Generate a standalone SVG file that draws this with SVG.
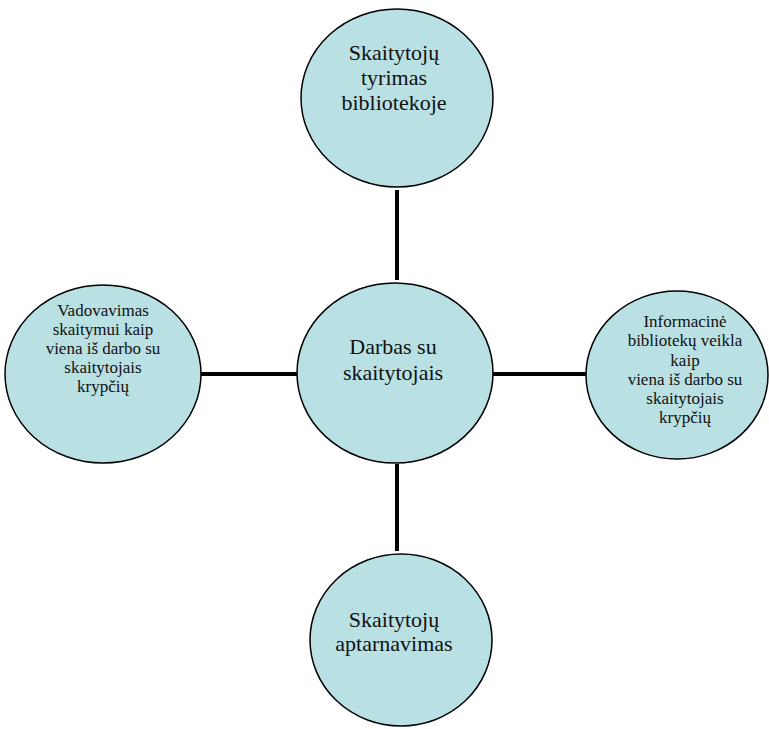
<svg xmlns="http://www.w3.org/2000/svg" width="769" height="729" viewBox="0 0 769 729">
<style>
.n{fill:#b9e0e3;stroke:#000;stroke-width:1.5}
.t{font-family:"Liberation Serif","Times New Roman",serif;fill:#111;text-anchor:middle}
.big{font-size:22px}
.sm{font-size:17px}
.c{stroke:#000;stroke-width:4;fill:none}
</style>
<rect width="769" height="729" fill="#fff"/>
<g id="connectors">
<line class="c" x1="397" y1="190" x2="397" y2="280"/>
<line class="c" x1="397" y1="464" x2="397" y2="551"/>
<line class="c" x1="201" y1="374" x2="297" y2="374"/>
<line class="c" x1="493" y1="374" x2="587" y2="374"/>
</g>
<g id="top">
<ellipse class="n" cx="397" cy="98" rx="96" ry="89"/>
<text class="t big"><tspan x="394" y="60">Skaitytojų</tspan><tspan x="394" y="85">tyrimas</tspan><tspan x="394" y="110">bibliotekoje</tspan></text>
</g>
<g id="center">
<ellipse class="n" cx="395" cy="373" rx="98" ry="90"/>
<text class="t big"><tspan x="393" y="354">Darbas su</tspan><tspan x="393" y="380">skaitytojais</tspan></text>
</g>
<g id="left">
<ellipse class="n" cx="103" cy="374" rx="98" ry="89"/>
<text class="t sm"><tspan x="103" y="316">Vadovavimas</tspan><tspan x="103" y="335">skaitymui kaip</tspan><tspan x="103" y="354">viena iš darbo su</tspan><tspan x="103" y="373">skaitytojais</tspan><tspan x="103" y="392">krypčių</tspan></text>
</g>
<g id="right">
<ellipse class="n" cx="677" cy="375" rx="91" ry="84"/>
<text class="t sm"><tspan x="685" y="327">Informacinė</tspan><tspan x="685" y="346">bibliotekų veikla</tspan><tspan x="685" y="366">kaip</tspan><tspan x="685" y="385">viena iš darbo su</tspan><tspan x="685" y="404">skaitytojais</tspan><tspan x="685" y="423">krypčių</tspan></text>
</g>
<g id="bottom">
<ellipse class="n" cx="401" cy="640" rx="91" ry="86"/>
<text class="t big"><tspan x="394" y="627">Skaitytojų</tspan><tspan x="394" y="651">aptarnavimas</tspan></text>
</g>
</svg>
